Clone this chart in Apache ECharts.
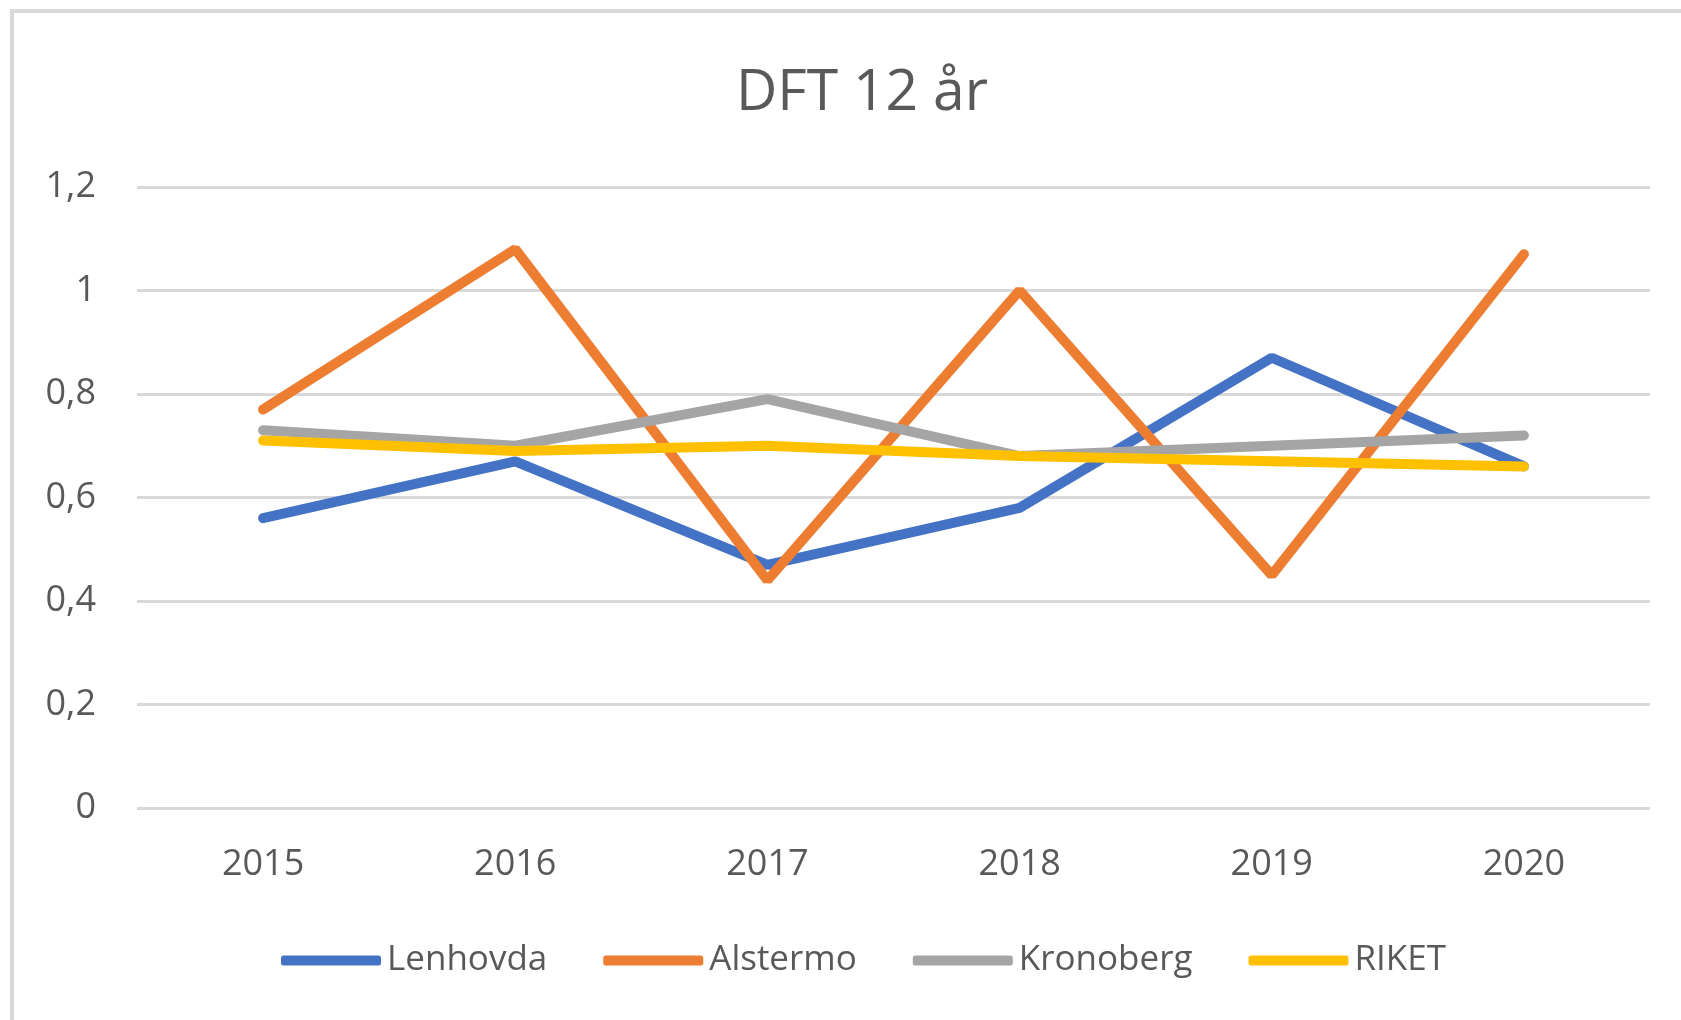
<!DOCTYPE html>
<html>
<head>
<meta charset="utf-8">
<title>DFT 12 år</title>
<script src="https://cdn.jsdelivr.net/npm/echarts@6/dist/echarts.min.js"></script>
<style>
  html, body { margin: 0; padding: 0; background: #fff; }
  #chart { width: 1681px; height: 1020px; }
</style>
</head>
<body>
<div id="chart"></div>
<script>
// data
const years = ['2015', '2016', '2017', '2018', '2019', '2020'];
const lenhovda = [0.56, 0.67, 0.47, 0.58, 0.87, 0.66];
const alstermo = [0.77, 1.08, 0.44, 1.00, 0.45, 1.07];
const kronoberg = [0.73, 0.70, 0.79, 0.68, 0.70, 0.72];
const riket = [0.71, 0.69, 0.70, 0.68, 0.67, 0.66];

const seriesNames = ['Lenhovda', 'Alstermo', 'Kronoberg', 'RIKET'];
const seriesColors = ['#4472C4', '#ED7D31', '#A5A5A5', '#FFC000'];
const seriesData = [lenhovda, alstermo, kronoberg, riket];

const FONT = '"Open Sans", "Noto Sans", sans-serif';
const TEXT_COLOR = '#595959';

const dom = document.getElementById('chart');
const myChart = echarts.init(dom);

const option = {
    backgroundColor: '#fff',
    animation: false,
    title: {
        text: 'DFT 12 år',
        left: 731,
        top: 60,
        textStyle: { fontFamily: FONT, fontSize: 57, fontWeight: 'normal', color: TEXT_COLOR }
    },
    // frame of the chart area (top and left edges visible)
    graphic: [{
        type: 'rect',
        shape: { x: 12, y: 11, width: 1700, height: 1050 },
        style: { fill: 'none', stroke: '#D9D9D9', lineWidth: 4 },
        silent: true
    }],
    legend: {
        data: seriesNames,
        left: 276,
        top: 938,
        icon: 'roundRect',
        itemWidth: 100,
        itemHeight: 10,
        itemGap: 56,
        textStyle: { fontFamily: FONT, fontSize: 35, color: TEXT_COLOR, padding: [0, 0, 0, 1] }
    },
    grid: {
        left: 137,
        right: 31,
        top: 187,
        bottom: 212,
        containLabel: false
    },
    xAxis: {
        type: 'category',
        data: years,
        boundaryGap: true,
        axisLine: { show: false },
        axisTick: { show: false },
        axisLabel: { fontFamily: FONT, fontSize: 36, color: TEXT_COLOR, margin: 39 }
    },
    yAxis: {
        type: 'value',
        min: 0,
        max: 1.2,
        interval: 0.2,
        axisLine: { show: false },
        axisTick: { show: false },
        splitLine: { lineStyle: { color: '#D9D9D9', width: 3 } },
        axisLabel: {
            fontFamily: FONT, fontSize: 36, color: TEXT_COLOR, margin: 41,
            formatter: function (v) { return String(Math.round(v * 10) / 10).replace('.', ','); }
        }
    },
    series: seriesNames.map(function (name, i) {
        return {
            name: name,
            type: 'line',
            data: seriesData[i],
            symbol: 'none',
            color: seriesColors[i],
            lineStyle: { width: 10, color: seriesColors[i], cap: 'round' },
            itemStyle: { color: seriesColors[i] }
        };
    })
};

myChart.setOption(option, true);
window.addEventListener('resize', function () { myChart.resize(); });
</script>
</body>
</html>
